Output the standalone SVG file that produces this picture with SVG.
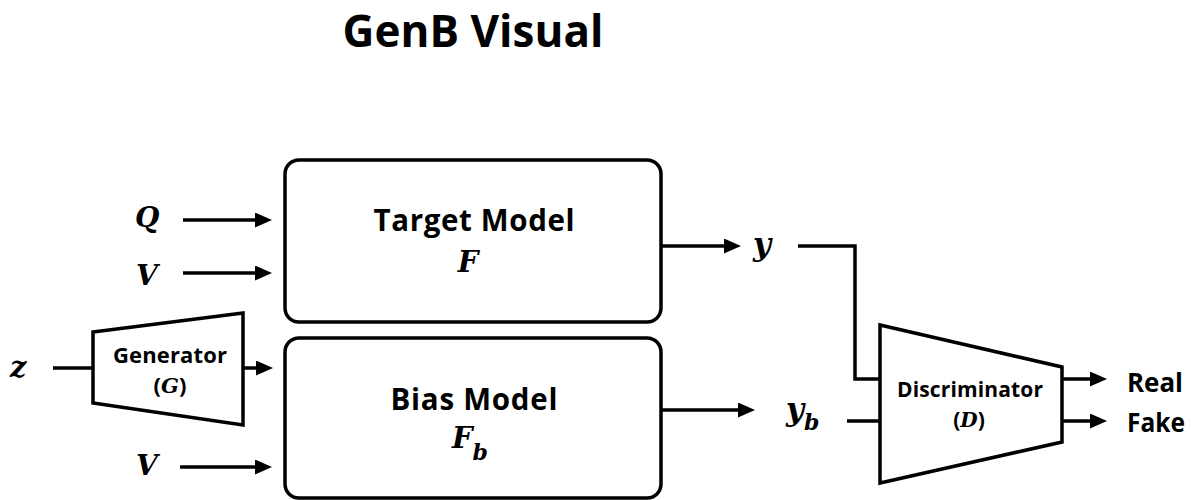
<svg xmlns="http://www.w3.org/2000/svg" width="1191" height="500" viewBox="0 0 1191 500">
  <defs>
    <marker id="arrow" markerUnits="userSpaceOnUse" markerWidth="17" markerHeight="15" refX="9" refY="7.5" orient="auto">
      <path d="M0,0 L17,7.5 L0,15 Z" fill="#000"/>
    </marker>
    <style>
      .box { fill: #fff; stroke: #000; stroke-width: 3.5; }
      .wire { fill: none; stroke: #000; stroke-width: 3.5; }
      .arr { fill: none; stroke: #000; stroke-width: 3.5; marker-end: url(#arrow); }
      .lbl { font-family: "Open Sans", "Noto Sans", sans-serif; font-weight: bold; fill: #000; }
      .math { font-family: "DejaVu Serif", "Liberation Serif", serif; font-weight: bold; font-style: italic; fill: #000; }
    </style>
  </defs>

  <!-- title -->
  <text id="title" class="lbl" x="473" y="47" font-size="44" text-anchor="middle" textLength="261">GenB Visual</text>

  <!-- inputs -->
  <g id="input-q">
    <text class="math" x="135" y="227" font-size="28">Q</text>
  </g>
  <g id="input-v1">
    <text class="math" x="136" y="285" font-size="28">V</text>
  </g>
  <g id="input-z">
    <text class="math" x="10" y="377" font-size="29">z</text>
  </g>
  <g id="input-v2">
    <text class="math" x="136" y="475" font-size="28">V</text>
  </g>

  <!-- generator -->
  <g id="generator">
    <polygon class="box" points="93,332 243,313 243,425 93,403"/>
    <text class="lbl" x="170" y="363" font-size="22" text-anchor="middle" textLength="114">Generator</text>
    <text class="lbl" x="170" y="393" font-size="22" text-anchor="middle">(<tspan class="math" font-size="21">G</tspan>)</text>
  </g>

  <!-- target model -->
  <g id="target-model">
    <rect class="box" x="285" y="160" width="376" height="162" rx="14"/>
    <text class="lbl" x="474" y="231" font-size="29.5" text-anchor="middle" textLength="201">Target Model</text>
    <text class="math" x="468" y="272" font-size="29" text-anchor="middle">F</text>
  </g>

  <!-- bias model -->
  <g id="bias-model">
    <rect class="box" x="285" y="338" width="376" height="160" rx="14"/>
    <text class="lbl" x="474" y="410" font-size="29.5" text-anchor="middle" textLength="167">Bias Model</text>
    <text class="math" x="452" y="448" font-size="29">F<tspan font-size="22" dy="12">b</tspan></text>
  </g>

  <!-- outputs of the models -->
  <g id="output-y">
    <text class="math" x="753" y="255" font-size="31">y</text>
  </g>
  <g id="output-yb">
    <text class="math" x="786" y="420" font-size="31">y<tspan font-size="22" dy="10">b</tspan></text>
  </g>

  <!-- discriminator -->
  <g id="discriminator">
    <polygon class="box" points="880,325 1062,367 1062,442 880,483"/>
    <text class="lbl" x="970" y="397" font-size="21" text-anchor="middle" textLength="146">Discriminator</text>
    <text class="lbl" x="969" y="427" font-size="21" text-anchor="middle">(<tspan class="math" font-size="20">D</tspan>)</text>
  </g>

  <!-- verdicts -->
  <g id="out-real">
    <text class="lbl" x="1127" y="392" font-size="27" textLength="56" lengthAdjust="spacingAndGlyphs">Real</text>
  </g>
  <g id="out-fake">
    <text class="lbl" x="1127" y="432" font-size="27" textLength="58" lengthAdjust="spacingAndGlyphs">Fake</text>
  </g>

  <!-- connectors -->
  <g id="connectors">
    <line class="arr" x1="183" y1="220" x2="264" y2="220"/>
    <line class="arr" x1="183" y1="273" x2="264" y2="273"/>
    <line class="wire" x1="53" y1="368" x2="93" y2="368"/>
    <line class="arr" x1="243" y1="368" x2="265" y2="368"/>
    <line class="arr" x1="180" y1="467" x2="264" y2="467"/>
    <line class="arr" x1="661" y1="246" x2="733" y2="246"/>
    <line class="arr" x1="661" y1="410" x2="747" y2="410"/>
    <path class="wire" d="M798,246 H855 V379 H880"/>
    <line class="wire" x1="847" y1="421" x2="880" y2="421"/>
    <line class="arr" x1="1062" y1="379" x2="1099" y2="379"/>
    <line class="arr" x1="1062" y1="421" x2="1099" y2="421"/>
  </g>
</svg>
